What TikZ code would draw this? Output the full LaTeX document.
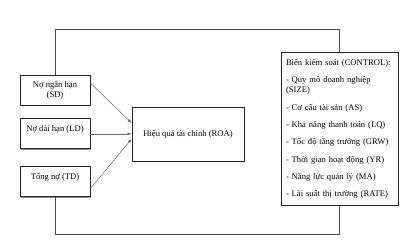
\documentclass[tikz,border=0pt]{standalone}
\usepackage{fontspec}
\setmainfont{Liberation Serif}
\usetikzlibrary{arrows.meta,positioning,shadows}
\tikzset{
  varbox/.style ={draw=black!85,line width=0.8pt,fill=white,align=center,minimum width=70pt,minimum height=30pt,inner sep=2pt,
                  drop shadow={shadow xshift=1pt,shadow yshift=-1pt,fill=black!45,opacity=1}},
  mainbox/.style={varbox,minimum width=112pt,minimum height=54pt},
  ctrlbox/.style={varbox,align=left,text width=107pt,minimum width=117pt,minimum height=153pt,anchor=north},
  arrow/.style  ={-{Latex[length=4pt,width=3pt]},draw=black!60,line width=0.5pt},
  link/.style   ={draw=black!70,line width=1pt}
}

\begin{document}
\begin{tikzpicture}[x=1pt,y=-1pt,every node/.style={font=\fontsize{8.6}{10.3}\selectfont}]
    \useasboundingbox (0,0) rectangle (420,249);
    \node[varbox] (sd) at (55,90) {Nợ ngắn hạn\\(SD)};
    \node[varbox,text depth=11pt,below=13pt of sd] (ld) {Nợ dài hạn (LD)};
    \node[varbox,text depth=11pt,below=17pt of ld] (td) {Tổng nợ (TD)};
    \node[mainbox] (roa) at (188,134) {Hiệu quả tài chính (ROA)};
    \node[ctrlbox] (ctrl) at (339.5,52) {Biến kiểm soát (CONTROL):\\[7pt]
      - Quy mô doanh nghiệp\\(SIZE)\\[7pt]
      - Cơ cấu tài sản (AS)\\[7pt]
      - Khả năng thanh toán (LQ)\\[7pt]
      - Tốc độ tăng trưởng (GRW)\\[7pt]
      - Thời gian hoạt động (YR)\\[7pt]
      - Năng lực quản lý (MA)\\[7pt]
      - Lãi suất thị trường (RATE)};
    \draw[arrow] ([yshift=7pt]sd.east) -- ([yshift=11pt]roa.west);
    \draw[arrow] (ld.east) -- (ld.east -| roa.west);
    \draw[arrow] ([yshift=-7pt]td.east) -- ([yshift=-5pt]roa.west);
    \draw[link] (sd.north) -- ++(0,-45) -| (ctrl.north);
    \draw[link] (td.south) -- ++(0,37) -| (ctrl.south);
  \end{tikzpicture}
\end{document}
